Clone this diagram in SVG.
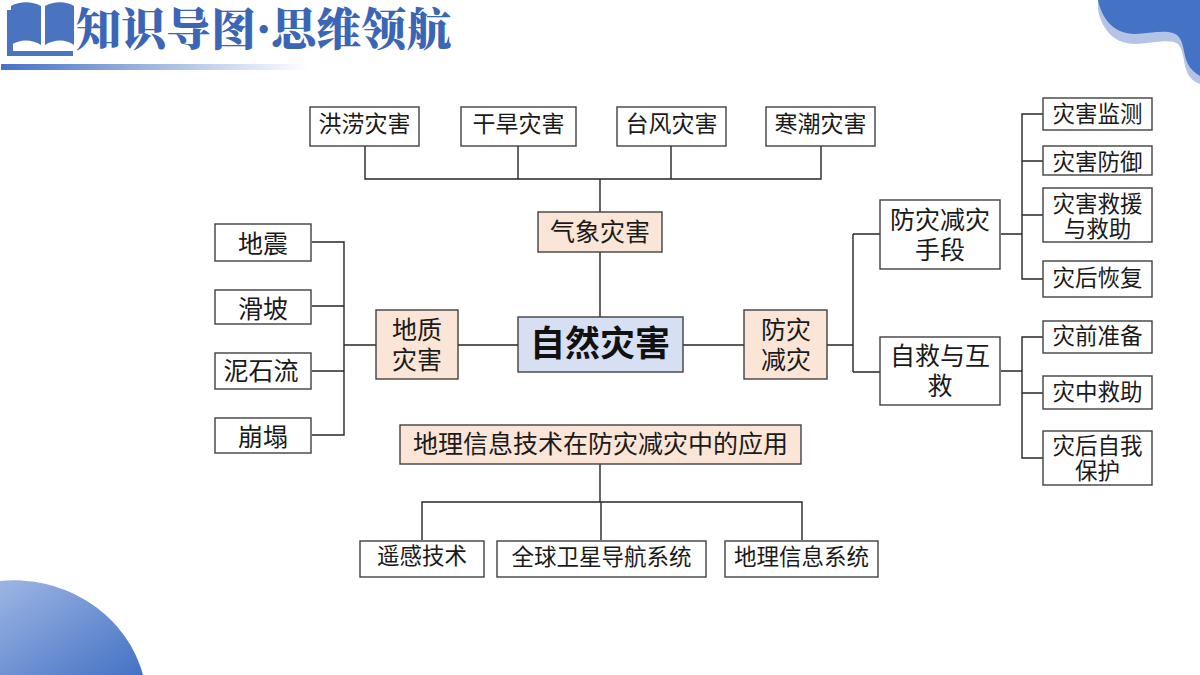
<svg xmlns="http://www.w3.org/2000/svg" width="1200" height="675" viewBox="0 0 1200 675">
<defs>
<linearGradient id="bar" x1="0" x2="1" y1="0" y2="0"><stop offset="0" stop-color="#4472c4"/><stop offset="1" stop-color="#4472c4" stop-opacity="0"/></linearGradient>
<linearGradient id="corner" x1="0" y1="0" x2="1" y2="1"><stop offset="0" stop-color="#9db5e3"/><stop offset="1" stop-color="#4472c4"/></linearGradient>
</defs>
<style>
.n{fill:#fff;stroke:#404040;stroke-width:1.4}
.o{fill:#fbe5d6;stroke:#404040;stroke-width:1.4}
.c{fill:#d6e0f2;stroke:#404040;stroke-width:1.4}
text{font-family:"Noto Sans CJK SC","Liberation Sans",sans-serif;text-anchor:middle;fill:#1a1a1a;font-size:25px}
.s{font-size:23px}
.m{font-size:22.5px}
.b{font-size:35px;font-weight:700;fill:#111}
.t{font-family:"Noto Serif CJK SC","Noto Sans CJK SC",sans-serif;font-size:45px;font-weight:900;fill:#3b66b5;text-anchor:start}
#conn path{fill:none;stroke:#262626;stroke-width:1.4}
</style>
<g id="decor">
<rect x="1" y="64" width="308" height="6" fill="url(#bar)"/>
<path d="M7 10V56H73V51H13V10Z" fill="#4a74c0"/>
<path d="M11 6C20 1 32 1 41 6V45C32 39 20 39 11 45Z" fill="#4a74c0"/>
<path d="M45 6C54 1 66 1 74 6V45C66 39 54 39 45 45Z" fill="#4a74c0"/>
<path d="M1098 10C1102 30 1115 44 1135 44C1150 44 1170 38 1178 44C1184 50 1183 62 1187 72C1190 79 1195 82 1200 84V0H1098Z" fill="#b4c3e6"/>
<path d="M1098 0C1102 20 1115 34 1135 34C1150 34 1170 28 1178 36C1184 42 1183 52 1187 62C1190 69 1195 73 1200 76V0Z" fill="#4472c4"/>
<path d="M0 581C60 575 125 610 143 675H0Z" fill="url(#corner)"/>
<text class="t" x="76" y="46">知识导图·思维领航</text>
</g>
<g id="conn">
<path d="M365 146V179H821V146M518 146V179M671 146V179M600 179V212M600 252V317"/>
<path d="M312 242H344V435H312M312 306H344M312 371H344M344 345H376M458 345H518"/>
<path d="M683 345H744M827 345H853M853 234V372M853 234H880M853 372H880"/>
<path d="M1001 234H1022M1043 114H1022V279H1043M1022 161H1043M1022 215H1043"/>
<path d="M1001 371H1022M1043 337H1022V458H1043M1022 393H1043"/>
<path d="M600 464V502M422 540V502H802V540M601 502V540"/>
</g>
<g id="n1"><rect class="n" x="310" y="107" width="109" height="39"/><text class="s" x="364.500" y="132">洪涝灾害</text></g>
<g id="n2"><rect class="n" x="461" y="107" width="115" height="39"/><text class="s" x="518.500" y="132">干旱灾害</text></g>
<g id="n3"><rect class="n" x="617" y="107" width="109" height="39"/><text class="s" x="671.500" y="132">台风灾害</text></g>
<g id="n4"><rect class="n" x="766" y="107" width="109" height="39"/><text class="s" x="820.500" y="132">寒潮灾害</text></g>
<g id="n5"><rect class="o" x="538" y="212" width="124" height="40"/><text x="600" y="241">气象灾害</text></g>
<g id="n6"><rect class="n" x="215" y="224" width="96" height="37"/><text x="263" y="253">地震</text></g>
<g id="n7"><rect class="n" x="215" y="290" width="96" height="34"/><text x="263" y="318">滑坡</text></g>
<g id="n8"><rect class="n" x="215" y="353" width="96" height="36"/><text x="261" y="380">泥石流</text></g>
<g id="n9"><rect class="n" x="215" y="418" width="96" height="35"/><text x="263" y="446">崩塌</text></g>
<g id="n10"><rect class="o" x="376" y="310" width="82" height="69"/><text x="417" y="339">地质<tspan x="417" dy="30">灾害</tspan></text></g>
<g id="n11"><rect class="c" x="518" y="317" width="165" height="55"/><text class="b" x="600" y="356">自然灾害</text></g>
<g id="n12"><rect class="o" x="744" y="310" width="83" height="69"/><text x="786" y="339">防灾<tspan x="786" dy="30">减灾</tspan></text></g>
<g id="n13"><rect class="n" x="880" y="200" width="120" height="69"/><text x="940" y="229">防灾减灾<tspan x="940" dy="30">手段</tspan></text></g>
<g id="n14"><rect class="n" x="880" y="337" width="120" height="68"/><text x="940" y="365">自救与互<tspan x="940" dy="30">救</tspan></text></g>
<g id="n15"><rect class="n" x="1043" y="98" width="109" height="32"/><text class="m" x="1097.500" y="122">灾害监测</text></g>
<g id="n16"><rect class="n" x="1043" y="146" width="109" height="29"/><text class="m" x="1097.500" y="170">灾害防御</text></g>
<g id="n17"><rect class="n" x="1043" y="188" width="109" height="54"/><text class="m" x="1097.500" y="212">灾害救援<tspan x="1097.500" dy="25">与救助</tspan></text></g>
<g id="n18"><rect class="n" x="1043" y="261" width="109" height="36"/><text class="m" x="1097.500" y="286">灾后恢复</text></g>
<g id="n19"><rect class="n" x="1043" y="321" width="109" height="32"/><text class="m" x="1097.500" y="344">灾前准备</text></g>
<g id="n20"><rect class="n" x="1043" y="376" width="109" height="33"/><text class="m" x="1097.500" y="400">灾中救助</text></g>
<g id="n21"><rect class="n" x="1043" y="431" width="109" height="54"/><text class="m" x="1097.500" y="454">灾后自我<tspan x="1097.500" dy="25">保护</tspan></text></g>
<g id="n22"><rect class="o" x="400" y="425" width="401" height="39"/><text x="600.500" y="453">地理信息技术在防灾减灾中的应用</text></g>
<g id="n23"><rect class="n" x="360" y="541" width="124" height="36"/><text class="m" x="422" y="564">遥感技术</text></g>
<g id="n24"><rect class="n" x="497" y="541" width="209" height="36"/><text class="m" x="601.500" y="565">全球卫星导航系统</text></g>
<g id="n25"><rect class="n" x="725" y="541" width="153" height="36"/><text class="m" x="801.500" y="565">地理信息系统</text></g>
</svg>
